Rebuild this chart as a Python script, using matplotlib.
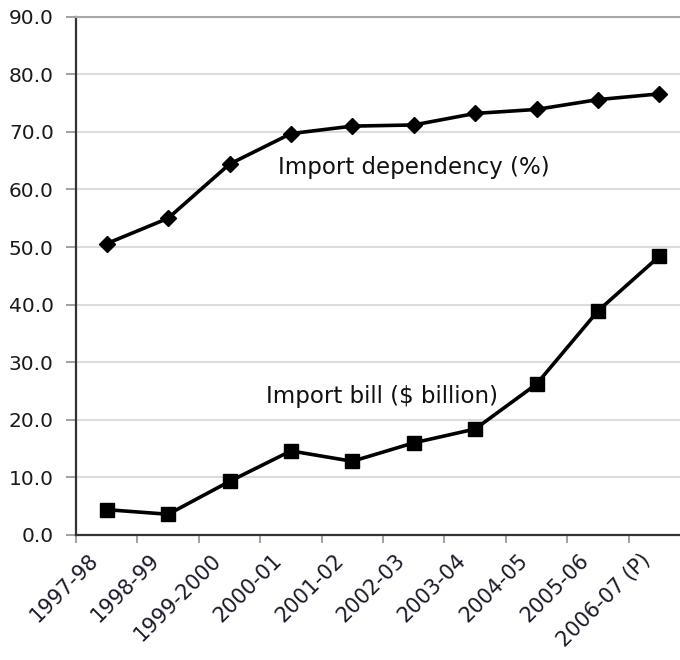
import numpy as np
import matplotlib.pyplot as plt
from matplotlib.transforms import ScaledTranslation

# data
years = ["1997-98", "1998-99", "1999-2000", "2000-01", "2001-02",
         "2002-03", "2003-04", "2004-05", "2005-06", "2006-07 (P)"]
dependency = [50.6, 55.0, 64.4, 69.7, 71.0, 71.2, 73.2, 73.9, 75.6, 76.6]
import_bill = [4.4, 3.6, 9.3, 14.6, 12.8, 16.0, 18.4, 26.2, 38.9, 48.4]
y_ticks = [0, 10, 20, 30, 40, 50, 60, 70, 80, 90]

plt.rcParams['font.family'] = ['DejaVu Sans']

fig = plt.figure(figsize=(6.8, 6.6), dpi=100)
ax = fig.add_axes([0.1118, 0.1894, 0.9029, 0.7853])

x = np.arange(len(years))
ax.plot(x, dependency, color="black", lw=2.6, marker="D", ms=8, zorder=3)
ax.plot(x, import_bill, color="black", lw=2.6, marker="s", ms=9.5, zorder=3)

ax.text(5.0, 63.9, "Import dependency (%)", ha="center", va="center",
        fontsize=16.5, color="#111111")
ax.text(4.48, 24.0, "Import bill ($ billion)", ha="center", va="center",
        fontsize=16.5, color="#111111")

ax.set_xlim(-0.5, len(years) - 0.5)
ax.set_ylim(0, 90)
ax.set_yticks(y_ticks)
ax.set_yticklabels(["%.1f" % v for v in y_ticks])
ax.yaxis.grid(True, color="#dcdcdc", lw=1.5)
ax.set_axisbelow(True)

# category labels at centres, tick marks at boundaries
ax.set_xticks(x)
ax.set_xticks(np.arange(-0.5, len(years) - 0.5, 1.0), minor=True)
ax.tick_params(axis="x", which="major", length=0, pad=0)
ax.tick_params(axis="x", which="minor", length=6, width=1.2, color="#909090")
ax.tick_params(axis="y", length=7, width=1.2, color="#909090", pad=9,
               labelsize=14.5, labelcolor="#1a1a1a")
ax.set_xticklabels(years, rotation=45, ha="right", va="center",
                   rotation_mode="anchor", fontsize=15, color="#1a1a2a")
offset = ScaledTranslation(-12 / 100, -22 / 100, fig.dpi_scale_trans)
for lbl in ax.get_xticklabels():
    lbl.set_transform(lbl.get_transform() + offset)

ax.spines["right"].set_visible(False)
ax.spines["top"].set_color("#a8a8a8")
ax.spines["top"].set_linewidth(1.5)
ax.spines["left"].set_color("#333333")
ax.spines["left"].set_linewidth(1.6)
ax.spines["bottom"].set_color("#333333")
ax.spines["bottom"].set_linewidth(1.6)

fig.savefig("out.png", dpi=100)
